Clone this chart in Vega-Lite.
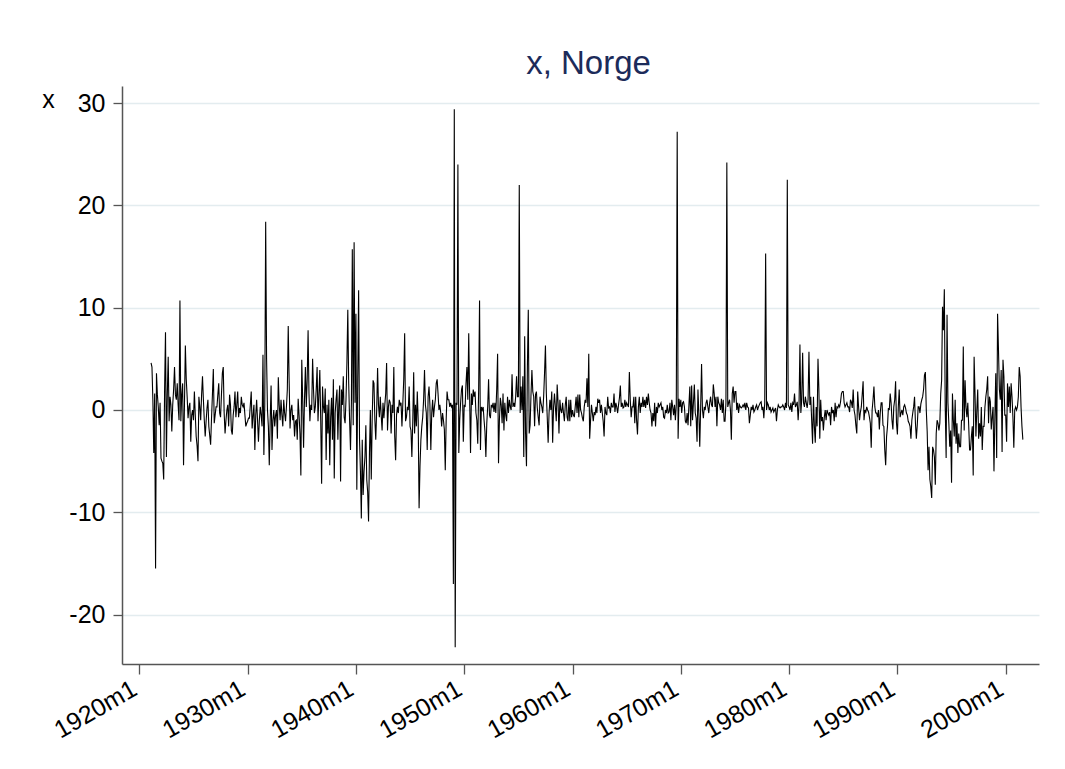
{
"$schema":"https://vega.github.io/schema/vega-lite/v6.json",
"autosize":"none",
"padding":{"left":122,"top":86,"right":26,"bottom":105},
"width":917,"height":578,
"background":"#ffffff",
"config":{"view":{"stroke":null},"font":"Liberation Sans"},
"title":{"text":"x, Norge","fontSize":33,"font":"Liberation Sans","fontWeight":"normal","color":"#1c2b5a","anchor":"middle","dx":8,"baseline":"alphabetic","offset":-21},
"data":{"values":[
{"t":-467,"x":4.6},{"t":-466,"x":4.2},{"t":-465,"x":1},{"t":-464,"x":-4.2},{"t":-463,"x":1.6},{"t":-462,"x":-15.5},{"t":-461,"x":3.6},{"t":-460,"x":1.5},{"t":-459,"x":0.3},{"t":-458,"x":-1.5},{"t":-457,"x":0.7},
{"t":-456,"x":-4.7},{"t":-455,"x":-5},{"t":-454,"x":-5.2},{"t":-453,"x":-6.8},{"t":-452,"x":2},{"t":-451,"x":7.6},{"t":-450,"x":-4.6},{"t":-449,"x":1.5},{"t":-448,"x":5.2},{"t":-447,"x":-1.1},{"t":-446,"x":1.3},{"t":-445,"x":0.5},
{"t":-444,"x":-2.1},{"t":-443,"x":0.5},{"t":-442,"x":2},{"t":-441,"x":4.2},{"t":-440,"x":1.5},{"t":-439,"x":1},{"t":-438,"x":2.6},{"t":-437,"x":0.5},{"t":-436,"x":-1},{"t":-435,"x":10.7},{"t":-434,"x":-1.1},{"t":-433,"x":1.5},
{"t":-432,"x":2.6},{"t":-431,"x":-5.4},{"t":-430,"x":0.5},{"t":-429,"x":6.3},{"t":-428,"x":3},{"t":-427,"x":1.3},{"t":-426,"x":-0.8},{"t":-425,"x":0.3},{"t":-424,"x":0.7},{"t":-423,"x":-3.1},{"t":-422,"x":-0.5},{"t":-421,"x":0},
{"t":-420,"x":-1},{"t":-419,"x":1.8},{"t":-418,"x":-0.5},{"t":-417,"x":-2.6},{"t":-416,"x":-3.5},{"t":-415,"x":-5},{"t":-414,"x":1.3},{"t":-413,"x":0.3},{"t":-412,"x":-1},{"t":-411,"x":1.5},{"t":-410,"x":3.3},{"t":-409,"x":1},
{"t":-408,"x":-1},{"t":-407,"x":-2.6},{"t":-406,"x":-1.1},{"t":-405,"x":0.2},{"t":-404,"x":1},{"t":-403,"x":-1.6},{"t":-402,"x":-2.5},{"t":-401,"x":-3.4},{"t":-400,"x":-0.8},{"t":-399,"x":1.5},{"t":-398,"x":4},{"t":-397,"x":-1.3},
{"t":-396,"x":-0.5},{"t":-395,"x":0.3},{"t":-394,"x":0.3},{"t":-393,"x":1.5},{"t":-392,"x":2.6},{"t":-391,"x":-0.3},{"t":-390,"x":-0.7},{"t":-389,"x":1.5},{"t":-388,"x":3.6},{"t":-387,"x":4.2},{"t":-386,"x":-0.3},{"t":-385,"x":-2.3},
{"t":-384,"x":-1},{"t":-383,"x":0},{"t":-382,"x":0.5},{"t":-381,"x":-1.6},{"t":-380,"x":1.5},{"t":-379,"x":0.5},{"t":-378,"x":-2},{"t":-377,"x":-2.4},{"t":-376,"x":-0.5},{"t":-375,"x":0.3},{"t":-374,"x":1.8},{"t":-373,"x":-0.7},
{"t":-372,"x":0.5},{"t":-371,"x":1.8},{"t":-370,"x":-0.7},{"t":-369,"x":0.2},{"t":-368,"x":-0.3},{"t":-367,"x":1.3},{"t":-366,"x":0.5},{"t":-365,"x":0.3},{"t":-364,"x":0.7},{"t":-363,"x":-0.5},{"t":-362,"x":-1.6},{"t":-361,"x":-1.3},
{"t":-360,"x":-1.1},{"t":-359,"x":-0.8},{"t":-358,"x":-0.8},{"t":-357,"x":0.5},{"t":-356,"x":1.8},{"t":-355,"x":-1.8},{"t":-354,"x":-0.5},{"t":-353,"x":0.5},{"t":-352,"x":-3.9},{"t":-351,"x":-0.5},{"t":-350,"x":1},{"t":-349,"x":-1},
{"t":-348,"x":-3.1},{"t":-347,"x":-1},{"t":-346,"x":0.3},{"t":-345,"x":-0.5},{"t":-344,"x":-1.6},{"t":-343,"x":5.4},{"t":-342,"x":-4.4},{"t":-341,"x":0.5},{"t":-340,"x":18.4},{"t":-339,"x":5},{"t":-338,"x":0},{"t":-337,"x":-1.6},
{"t":-336,"x":-5.4},{"t":-335,"x":-1},{"t":-334,"x":2.4},{"t":-333,"x":-3.9},{"t":-332,"x":-1},{"t":-331,"x":0},{"t":-330,"x":-1.6},{"t":-329,"x":-0.5},{"t":-328,"x":0},{"t":-327,"x":-2.8},{"t":-326,"x":3.2},{"t":-325,"x":0.5},
{"t":-324,"x":-1},{"t":-323,"x":1},{"t":-322,"x":-0.5},{"t":-321,"x":-1.6},{"t":-320,"x":1},{"t":-319,"x":-0.3},{"t":-318,"x":-1.1},{"t":-317,"x":0.3},{"t":-316,"x":2},{"t":-315,"x":8.2},{"t":-314,"x":2.9},{"t":-313,"x":-1.8},
{"t":-312,"x":0},{"t":-311,"x":0.5},{"t":-310,"x":-1},{"t":-309,"x":-0.5},{"t":-308,"x":-2.6},{"t":-307,"x":-1.1},{"t":-306,"x":-1},{"t":-305,"x":-2.9},{"t":-304,"x":1.1},{"t":-303,"x":-0.5},{"t":-302,"x":-2.3},{"t":-301,"x":-6.4},
{"t":-300,"x":4.9},{"t":-299,"x":1},{"t":-298,"x":-3.7},{"t":-297,"x":1},{"t":-296,"x":4.2},{"t":-295,"x":0.3},{"t":-294,"x":3},{"t":-293,"x":7.8},{"t":-292,"x":1.6},{"t":-291,"x":-1.1},{"t":-290,"x":0.5},{"t":-289,"x":0},
{"t":-288,"x":5},{"t":-287,"x":2},{"t":-286,"x":-0.3},{"t":-285,"x":0.3},{"t":-284,"x":2},{"t":-283,"x":4.2},{"t":-282,"x":-1.1},{"t":-281,"x":1.5},{"t":-280,"x":3.9},{"t":-279,"x":-1},{"t":-278,"x":-7.2},{"t":-277,"x":2.3},
{"t":-276,"x":0.3},{"t":-275,"x":-0.3},{"t":-274,"x":2.1},{"t":-273,"x":-4.9},{"t":-272,"x":0.5},{"t":-271,"x":-2.3},{"t":-270,"x":1},{"t":-269,"x":-5.4},{"t":-268,"x":-0.7},{"t":-267,"x":1.2},{"t":-266,"x":-2.9},{"t":-265,"x":3},
{"t":-264,"x":-6.7},{"t":-263,"x":-0.3},{"t":-262,"x":1},{"t":-261,"x":2},{"t":-260,"x":-2.9},{"t":-259,"x":0.5},{"t":-258,"x":2.4},{"t":-257,"x":-7},{"t":-256,"x":2},{"t":-255,"x":0.5},{"t":-254,"x":3.3},{"t":-253,"x":-0.7},
{"t":-252,"x":-1.3},{"t":-251,"x":1},{"t":-250,"x":4.6},{"t":-249,"x":9.8},{"t":-248,"x":2.6},{"t":-247,"x":-1},{"t":-246,"x":-3.9},{"t":-245,"x":0.7},{"t":-244,"x":15.7},{"t":-243,"x":-1.5},{"t":-242,"x":16.4},{"t":-241,"x":0.7},
{"t":-240,"x":9.4},{"t":-239,"x":-7.8},{"t":-238,"x":3},{"t":-237,"x":11.7},{"t":-236,"x":-2.9},{"t":-235,"x":-6},{"t":-234,"x":-10.6},{"t":-233,"x":-2.9},{"t":-232,"x":-8.3},{"t":-231,"x":-6},{"t":-230,"x":-4.6},{"t":-229,"x":-1.5},
{"t":-228,"x":-6.8},{"t":-227,"x":-8},{"t":-226,"x":-10.9},{"t":-225,"x":-4.2},{"t":-224,"x":0},{"t":-223,"x":-6.8},{"t":-222,"x":-1},{"t":-221,"x":2.9},{"t":-220,"x":2.6},{"t":-219,"x":-1},{"t":-218,"x":-2.9},{"t":-217,"x":0},
{"t":-216,"x":4.1},{"t":-215,"x":0.5},{"t":-214,"x":-0.7},{"t":-213,"x":1.3},{"t":-212,"x":-0.5},{"t":-211,"x":-2},{"t":-210,"x":0.7},{"t":-209,"x":-0.8},{"t":-208,"x":0.5},{"t":-207,"x":1.6},{"t":-206,"x":4.6},{"t":-205,"x":-2},
{"t":-204,"x":0.3},{"t":-203,"x":1},{"t":-202,"x":0.7},{"t":-201,"x":-2.3},{"t":-200,"x":0.5},{"t":-199,"x":-0.3},{"t":-198,"x":4.2},{"t":-197,"x":-2.6},{"t":-196,"x":-4.9},{"t":-195,"x":-0.5},{"t":-194,"x":0.3},{"t":-193,"x":-0.3},
{"t":-192,"x":1},{"t":-191,"x":0.5},{"t":-190,"x":0.7},{"t":-189,"x":-1.6},{"t":-188,"x":0.7},{"t":-187,"x":3},{"t":-186,"x":7.5},{"t":-185,"x":-1.1},{"t":-184,"x":-0.7},{"t":-183,"x":0.3},{"t":-182,"x":0},{"t":-181,"x":2.3},
{"t":-180,"x":-1.6},{"t":-179,"x":-2},{"t":-178,"x":-4.6},{"t":-177,"x":-1.1},{"t":-176,"x":3.7},{"t":-175,"x":-2.3},{"t":-174,"x":0.5},{"t":-173,"x":-1.6},{"t":-172,"x":1.8},{"t":-171,"x":-1},{"t":-170,"x":-9.6},{"t":-169,"x":-5.5},
{"t":-168,"x":-2.9},{"t":-167,"x":-1.6},{"t":-166,"x":-0.7},{"t":-165,"x":1},{"t":-164,"x":3.9},{"t":-163,"x":0.5},{"t":-162,"x":-0.3},{"t":-161,"x":-3.9},{"t":-160,"x":1.3},{"t":-159,"x":2.3},{"t":-158,"x":0.5},{"t":-157,"x":-3.9},
{"t":-156,"x":-0.3},{"t":-155,"x":1},{"t":-154,"x":-0.7},{"t":-153,"x":0.3},{"t":-152,"x":1},{"t":-151,"x":2.6},{"t":-150,"x":3},{"t":-149,"x":1.6},{"t":-148,"x":0},{"t":-147,"x":0.5},{"t":-146,"x":-0.3},{"t":-145,"x":-1.6},
{"t":-144,"x":-0.3},{"t":-143,"x":-1},{"t":-142,"x":-1.9},{"t":-141,"x":-5.9},{"t":-140,"x":-1},{"t":-139,"x":1.8},{"t":-138,"x":1},{"t":-137,"x":1},{"t":-136,"x":0.3},{"t":-135,"x":0.7},{"t":-134,"x":0.3},{"t":-133,"x":0.5},
{"t":-132,"x":-17},{"t":-131,"x":29.4},{"t":-130,"x":-23.2},{"t":-129,"x":0.7},{"t":-128,"x":0.5},{"t":-127,"x":24},{"t":-126,"x":-4.2},{"t":-125,"x":-1},{"t":-124,"x":0.7},{"t":-123,"x":2},{"t":-122,"x":2.4},{"t":-121,"x":-3.1},
{"t":-120,"x":0.5},{"t":-119,"x":0.3},{"t":-118,"x":2.6},{"t":-117,"x":4.2},{"t":-116,"x":1},{"t":-115,"x":7.5},{"t":-114,"x":1.3},{"t":-113,"x":-4.2},{"t":-112,"x":1.6},{"t":-111,"x":0.5},{"t":-110,"x":2},{"t":-109,"x":1.3},
{"t":-108,"x":1.8},{"t":-107,"x":-0.3},{"t":-106,"x":-1},{"t":-105,"x":-3.3},{"t":-104,"x":2.1},{"t":-103,"x":10.7},{"t":-102,"x":-3.9},{"t":-101,"x":0.3},{"t":-100,"x":0},{"t":-99,"x":0.3},{"t":-98,"x":-1},{"t":-97,"x":-2.1},
{"t":-96,"x":-4.6},{"t":-95,"x":-1.3},{"t":-94,"x":0.3},{"t":-93,"x":3},{"t":-92,"x":-0.5},{"t":-91,"x":-0.8},{"t":-90,"x":0.5},{"t":-89,"x":0.3},{"t":-88,"x":0.7},{"t":-87,"x":-0.2},{"t":-86,"x":0.7},{"t":-85,"x":-0.3},
{"t":-84,"x":2},{"t":-83,"x":5.5},{"t":-82,"x":-5.2},{"t":-81,"x":-1},{"t":-80,"x":1.2},{"t":-79,"x":0.5},{"t":-78,"x":-1.3},{"t":-77,"x":1.6},{"t":-76,"x":-2},{"t":-75,"x":0.7},{"t":-74,"x":-0.5},{"t":-73,"x":-1.1},
{"t":-72,"x":1.3},{"t":-71,"x":-0.3},{"t":-70,"x":1},{"t":-69,"x":0.3},{"t":-68,"x":0},{"t":-67,"x":3.5},{"t":-66,"x":0.3},{"t":-65,"x":0.7},{"t":-64,"x":0.3},{"t":-63,"x":1.3},{"t":-62,"x":3.3},{"t":-61,"x":1.3},
{"t":-60,"x":1.3},{"t":-59,"x":22},{"t":-58,"x":-0.3},{"t":-57,"x":2.3},{"t":-56,"x":0},{"t":-55,"x":3.3},{"t":-54,"x":-4.6},{"t":-53,"x":7.2},{"t":-52,"x":-2.3},{"t":-51,"x":-5.5},{"t":-50,"x":4.2},{"t":-49,"x":9.8},
{"t":-48,"x":-2.3},{"t":-47,"x":-1.5},{"t":-46,"x":1.5},{"t":-45,"x":3.9},{"t":-44,"x":1.8},{"t":-43,"x":1.3},{"t":-42,"x":-1.6},{"t":-41,"x":1.5},{"t":-40,"x":1.8},{"t":-39,"x":0.2},{"t":-38,"x":-0.7},{"t":-37,"x":-1.5},
{"t":-36,"x":1.3},{"t":-35,"x":0.7},{"t":-34,"x":0.3},{"t":-33,"x":-0.3},{"t":-32,"x":1.3},{"t":-31,"x":3.6},{"t":-30,"x":6.3},{"t":-29,"x":1.6},{"t":-28,"x":-0.7},{"t":-27,"x":-3.2},{"t":-26,"x":-0.3},{"t":-25,"x":1},
{"t":-24,"x":0},{"t":-23,"x":1.8},{"t":-22,"x":-3.2},{"t":-21,"x":0.3},{"t":-20,"x":1.6},{"t":-19,"x":0.3},{"t":-18,"x":-1.1},{"t":-17,"x":2.5},{"t":-16,"x":0.7},{"t":-15,"x":-2.3},{"t":-14,"x":1},{"t":-13,"x":0},
{"t":-12,"x":-0.3},{"t":-11,"x":0.7},{"t":-10,"x":-0.3},{"t":-9,"x":-1.1},{"t":-8,"x":0.5},{"t":-7,"x":1.3},{"t":-6,"x":-0.7},{"t":-5,"x":-1.1},{"t":-4,"x":1},{"t":-3,"x":-1.1},{"t":-2,"x":1},{"t":-1,"x":-0.7},
{"t":0,"x":0},{"t":1,"x":-0.5},{"t":2,"x":-0.7},{"t":3,"x":0.3},{"t":4,"x":1.3},{"t":5,"x":-0.3},{"t":6,"x":1.5},{"t":7,"x":-0.7},{"t":8,"x":1.5},{"t":9,"x":0},{"t":10,"x":-0.3},{"t":11,"x":-0.8},
{"t":12,"x":-1.1},{"t":13,"x":0.3},{"t":14,"x":1},{"t":15,"x":0.7},{"t":16,"x":3.1},{"t":17,"x":0.3},{"t":18,"x":5.5},{"t":19,"x":-2.8},{"t":20,"x":-1},{"t":21,"x":0.5},{"t":22,"x":-0.3},{"t":23,"x":-1.1},
{"t":24,"x":-0.2},{"t":25,"x":-0.5},{"t":26,"x":0.3},{"t":27,"x":-0.3},{"t":28,"x":1.1},{"t":29,"x":0.7},{"t":30,"x":1},{"t":31,"x":-0.3},{"t":32,"x":0.5},{"t":33,"x":-0.3},{"t":34,"x":-1.1},{"t":35,"x":-2.6},
{"t":36,"x":0.3},{"t":37,"x":-0.3},{"t":38,"x":-0.5},{"t":39,"x":1.3},{"t":40,"x":0.2},{"t":41,"x":0.3},{"t":42,"x":-0.3},{"t":43,"x":0.7},{"t":44,"x":0.3},{"t":45,"x":0.3},{"t":46,"x":1.6},{"t":47,"x":-0.2},
{"t":48,"x":0.7},{"t":49,"x":0.3},{"t":50,"x":-0.3},{"t":51,"x":0.5},{"t":52,"x":1.2},{"t":53,"x":2.4},{"t":54,"x":0.3},{"t":55,"x":0.7},{"t":56,"x":0.2},{"t":57,"x":0.3},{"t":58,"x":1},{"t":59,"x":0.3},
{"t":60,"x":0.7},{"t":61,"x":0.5},{"t":62,"x":0.3},{"t":63,"x":3.7},{"t":64,"x":1},{"t":65,"x":-0.7},{"t":66,"x":0.3},{"t":67,"x":0.3},{"t":68,"x":1.3},{"t":69,"x":-1.3},{"t":70,"x":1.3},{"t":71,"x":-1},
{"t":72,"x":-2.4},{"t":73,"x":0.3},{"t":74,"x":1.3},{"t":75,"x":-0.3},{"t":76,"x":0.7},{"t":77,"x":0.3},{"t":78,"x":1.3},{"t":79,"x":0.3},{"t":80,"x":1},{"t":81,"x":0.2},{"t":82,"x":1.3},{"t":83,"x":0.5},
{"t":84,"x":1.6},{"t":85,"x":0.7},{"t":86,"x":0},{"t":87,"x":-0.3},{"t":88,"x":-1.6},{"t":89,"x":-0.3},{"t":90,"x":-1.1},{"t":91,"x":0.7},{"t":92,"x":-1.6},{"t":93,"x":0.3},{"t":94,"x":-0.3},{"t":95,"x":0.7},
{"t":96,"x":0.3},{"t":97,"x":0.5},{"t":98,"x":0.7},{"t":99,"x":0},{"t":100,"x":0.3},{"t":101,"x":-0.7},{"t":102,"x":-0.8},{"t":103,"x":0},{"t":104,"x":-0.3},{"t":105,"x":0.5},{"t":106,"x":-0.3},{"t":107,"x":-0.2},
{"t":108,"x":0.7},{"t":109,"x":-1},{"t":110,"x":1},{"t":111,"x":0.3},{"t":112,"x":-0.5},{"t":113,"x":0.5},{"t":114,"x":-1},{"t":115,"x":0.5},{"t":116,"x":27.2},{"t":117,"x":-2.8},{"t":118,"x":1.1},{"t":119,"x":0.3},
{"t":120,"x":1},{"t":121,"x":-0.3},{"t":122,"x":0.7},{"t":123,"x":0.8},{"t":124,"x":0.3},{"t":125,"x":-1.1},{"t":126,"x":-1.3},{"t":127,"x":-0.3},{"t":128,"x":-1.5},{"t":129,"x":0.5},{"t":130,"x":2.3},{"t":131,"x":-1.6},
{"t":132,"x":2.4},{"t":133,"x":-1},{"t":134,"x":0.7},{"t":135,"x":2.5},{"t":136,"x":-0.3},{"t":137,"x":-0.8},{"t":138,"x":-3.1},{"t":139,"x":2},{"t":140,"x":-0.3},{"t":141,"x":-3.6},{"t":142,"x":0.3},{"t":143,"x":4.5},
{"t":144,"x":0},{"t":145,"x":-0.8},{"t":146,"x":0.3},{"t":147,"x":0},{"t":148,"x":0.7},{"t":149,"x":1},{"t":150,"x":0.3},{"t":151,"x":-0.3},{"t":152,"x":0.7},{"t":153,"x":1.3},{"t":154,"x":0.5},{"t":155,"x":0.3},
{"t":156,"x":2.5},{"t":157,"x":1.6},{"t":158,"x":0.3},{"t":159,"x":1.3},{"t":160,"x":-1.6},{"t":161,"x":1.3},{"t":162,"x":0.7},{"t":163,"x":0.5},{"t":164,"x":0},{"t":165,"x":1.1},{"t":166,"x":-0.3},{"t":167,"x":1},
{"t":168,"x":-1.1},{"t":169,"x":-1.1},{"t":170,"x":0.7},{"t":171,"x":24.2},{"t":172,"x":0.3},{"t":173,"x":0.7},{"t":174,"x":1},{"t":175,"x":0},{"t":176,"x":-2.9},{"t":177,"x":1.6},{"t":178,"x":2.3},{"t":179,"x":0.7},
{"t":180,"x":1.8},{"t":181,"x":1.8},{"t":182,"x":0},{"t":183,"x":0.7},{"t":184,"x":-0.3},{"t":185,"x":0.5},{"t":186,"x":0.3},{"t":187,"x":0.2},{"t":188,"x":0.3},{"t":189,"x":0.5},{"t":190,"x":0.3},{"t":191,"x":0.7},
{"t":192,"x":0},{"t":193,"x":0.7},{"t":194,"x":0.3},{"t":195,"x":0.2},{"t":196,"x":-1.3},{"t":197,"x":-0.5},{"t":198,"x":0.3},{"t":199,"x":0},{"t":200,"x":0.5},{"t":201,"x":-0.2},{"t":202,"x":0},{"t":203,"x":0.3},
{"t":204,"x":0.5},{"t":205,"x":0},{"t":206,"x":0.3},{"t":207,"x":0.5},{"t":208,"x":0.7},{"t":209,"x":0.8},{"t":210,"x":0},{"t":211,"x":0.3},{"t":212,"x":-0.8},{"t":213,"x":0.7},{"t":214,"x":15.3},{"t":215,"x":0},
{"t":216,"x":0.7},{"t":217,"x":0.5},{"t":218,"x":0},{"t":219,"x":0.3},{"t":220,"x":-0.2},{"t":221,"x":0},{"t":222,"x":0.2},{"t":223,"x":-0.2},{"t":224,"x":0},{"t":225,"x":0.2},{"t":226,"x":-1.1},{"t":227,"x":0},
{"t":228,"x":0.5},{"t":229,"x":0.3},{"t":230,"x":0.2},{"t":231,"x":0.3},{"t":232,"x":0.3},{"t":233,"x":0.5},{"t":234,"x":0.3},{"t":235,"x":0},{"t":236,"x":0.7},{"t":237,"x":0.2},{"t":238,"x":22.5},{"t":239,"x":0.5},
{"t":240,"x":0.3},{"t":241,"x":0},{"t":242,"x":0.7},{"t":243,"x":-0.2},{"t":244,"x":0.7},{"t":245,"x":0.5},{"t":246,"x":1.6},{"t":247,"x":0.3},{"t":248,"x":0.5},{"t":249,"x":0.8},{"t":250,"x":-1},{"t":251,"x":0.5},
{"t":252,"x":6.4},{"t":253,"x":-0.3},{"t":254,"x":1},{"t":255,"x":5.6},{"t":256,"x":0.7},{"t":257,"x":0.3},{"t":258,"x":1.3},{"t":259,"x":0.7},{"t":260,"x":0.2},{"t":261,"x":1},{"t":262,"x":5.7},{"t":263,"x":0.5},
{"t":264,"x":1.3},{"t":265,"x":-1},{"t":266,"x":-3.3},{"t":267,"x":1.3},{"t":268,"x":-1.6},{"t":269,"x":-3.2},{"t":270,"x":0.3},{"t":271,"x":-1.6},{"t":272,"x":5},{"t":273,"x":2},{"t":274,"x":-2.8},{"t":275,"x":1},
{"t":276,"x":-1.1},{"t":277,"x":-0.7},{"t":278,"x":-2},{"t":279,"x":-0.7},{"t":280,"x":0},{"t":281,"x":-1},{"t":282,"x":0},{"t":283,"x":-0.3},{"t":284,"x":-0.5},{"t":285,"x":-0.2},{"t":286,"x":-1.5},{"t":287,"x":0.3},
{"t":288,"x":-0.3},{"t":289,"x":0},{"t":290,"x":-1.1},{"t":291,"x":0.7},{"t":292,"x":-0.7},{"t":293,"x":0.3},{"t":294,"x":0.2},{"t":295,"x":0.5},{"t":296,"x":0.3},{"t":297,"x":0.8},{"t":298,"x":1.6},{"t":299,"x":1.8},
{"t":300,"x":1.8},{"t":301,"x":0.7},{"t":302,"x":0.3},{"t":303,"x":0.5},{"t":304,"x":0.7},{"t":305,"x":0.3},{"t":306,"x":0.3},{"t":307,"x":-0.2},{"t":308,"x":1},{"t":309,"x":0.8},{"t":310,"x":0.2},{"t":311,"x":2},
{"t":312,"x":0},{"t":313,"x":-0.5},{"t":314,"x":-1.5},{"t":315,"x":-2.3},{"t":316,"x":1.8},{"t":317,"x":0.3},{"t":318,"x":-1},{"t":319,"x":-0.2},{"t":320,"x":0.3},{"t":321,"x":1.5},{"t":322,"x":2.8},{"t":323,"x":-1},
{"t":324,"x":0},{"t":325,"x":-0.2},{"t":326,"x":0.3},{"t":327,"x":0},{"t":328,"x":-0.2},{"t":329,"x":-0.7},{"t":330,"x":-1.3},{"t":331,"x":-3.7},{"t":332,"x":0},{"t":333,"x":1},{"t":334,"x":2.3},{"t":335,"x":0.3},
{"t":336,"x":-0.3},{"t":337,"x":-0.3},{"t":338,"x":-0.7},{"t":339,"x":0},{"t":340,"x":-1.9},{"t":341,"x":-0.3},{"t":342,"x":0.7},{"t":343,"x":0.7},{"t":344,"x":-1.5},{"t":345,"x":-1.6},{"t":346,"x":-3.9},{"t":347,"x":-5.4},
{"t":348,"x":-2.6},{"t":349,"x":-1.6},{"t":350,"x":0.2},{"t":351,"x":0},{"t":352,"x":1.6},{"t":353,"x":0.7},{"t":354,"x":-1},{"t":355,"x":-1.9},{"t":356,"x":0.3},{"t":357,"x":1},{"t":358,"x":2.8},{"t":359,"x":-1.3},
{"t":360,"x":-2.4},{"t":361,"x":0.3},{"t":362,"x":2},{"t":363,"x":-0.7},{"t":364,"x":-0.3},{"t":365,"x":0},{"t":366,"x":-0.5},{"t":367,"x":0.3},{"t":368,"x":0.5},{"t":369,"x":0.2},{"t":370,"x":-0.3},{"t":371,"x":-0.5},
{"t":372,"x":-1.1},{"t":373,"x":-1.3},{"t":374,"x":-1.6},{"t":375,"x":-2.8},{"t":376,"x":-1},{"t":377,"x":-0.3},{"t":378,"x":0.3},{"t":379,"x":1.3},{"t":380,"x":-1.3},{"t":381,"x":-2.8},{"t":382,"x":-1.5},{"t":383,"x":0.3},
{"t":384,"x":0.3},{"t":385,"x":-0.3},{"t":386,"x":0.6},{"t":387,"x":1},{"t":388,"x":1.3},{"t":389,"x":2},{"t":390,"x":3.4},{"t":391,"x":3.7},{"t":392,"x":0},{"t":393,"x":-2.1},{"t":394,"x":-5.9},{"t":395,"x":-3.6},
{"t":396,"x":-6.8},{"t":397,"x":-7.5},{"t":398,"x":-8.6},{"t":399,"x":-3.6},{"t":400,"x":-3.9},{"t":401,"x":-4.6},{"t":402,"x":-7.3},{"t":403,"x":-2.3},{"t":404,"x":-1},{"t":405,"x":-1.3},{"t":406,"x":-2},{"t":407,"x":-1.3},
{"t":408,"x":1.6},{"t":409,"x":2.9},{"t":410,"x":10.1},{"t":411,"x":7.8},{"t":412,"x":11.8},{"t":413,"x":0.3},{"t":414,"x":-4.7},{"t":415,"x":9.3},{"t":416,"x":0.7},{"t":417,"x":-1.3},{"t":418,"x":-3.6},{"t":419,"x":-2},
{"t":420,"x":-7.1},{"t":421,"x":1.6},{"t":422,"x":-1},{"t":423,"x":-2.6},{"t":424,"x":1},{"t":425,"x":-3.3},{"t":426,"x":-1.3},{"t":427,"x":-4.2},{"t":428,"x":-2.3},{"t":429,"x":-3.6},{"t":430,"x":-3.6},{"t":431,"x":-1},
{"t":432,"x":-1},{"t":433,"x":6.2},{"t":434,"x":-2},{"t":435,"x":2.9},{"t":436,"x":0.3},{"t":437,"x":-0.7},{"t":438,"x":0.7},{"t":439,"x":-1.5},{"t":440,"x":-3.9},{"t":441,"x":-3.9},{"t":442,"x":-2.6},{"t":443,"x":-1.6},
{"t":444,"x":-6.4},{"t":445,"x":5.2},{"t":446,"x":1.6},{"t":447,"x":-2.6},{"t":448,"x":0},{"t":449,"x":2},{"t":450,"x":-2.8},{"t":451,"x":-1.3},{"t":452,"x":-2.6},{"t":453,"x":0.3},{"t":454,"x":-3.9},{"t":455,"x":-1.6},
{"t":456,"x":-1.6},{"t":457,"x":0.3},{"t":458,"x":1.3},{"t":459,"x":2},{"t":460,"x":3.3},{"t":461,"x":-1.3},{"t":462,"x":1.3},{"t":463,"x":0.8},{"t":464,"x":-1.9},{"t":465,"x":-0.7},{"t":466,"x":0.3},{"t":467,"x":-6},
{"t":468,"x":-0.7},{"t":469,"x":3.6},{"t":470,"x":-4.7},{"t":471,"x":9.4},{"t":472,"x":5.9},{"t":473,"x":2},{"t":474,"x":1},{"t":475,"x":3.9},{"t":476,"x":-4.1},{"t":477,"x":4.9},{"t":478,"x":3.3},{"t":479,"x":-0.5},
{"t":480,"x":-0.5},{"t":481,"x":-3.1},{"t":482,"x":2.6},{"t":483,"x":0.3},{"t":484,"x":2.3},{"t":485,"x":-0.3},{"t":486,"x":2.6},{"t":487,"x":1.3},{"t":488,"x":-0.7},{"t":489,"x":-3.7},{"t":490,"x":0},{"t":491,"x":0.3},
{"t":492,"x":0},{"t":493,"x":0.3},{"t":494,"x":1.3},{"t":495,"x":4.2},{"t":496,"x":3.3},{"t":497,"x":0.3},{"t":498,"x":-1.6},{"t":499,"x":-2.9}
]},
"mark":{"type":"line","color":"#000000","strokeWidth":1.1,"interpolate":"linear"},
"encoding":{
"x":{"field":"t","type":"quantitative","scale":{"domain":[-499.2,516.9],"nice":false,"zero":false},
"axis":{"title":null,"values":[-480,-360,-240,-120,0,120,240,360,480],"labelExpr":"(1960 + datum.value / 12) + 'm1'","labelAngle":-30,"labelAlign":"right","labelBaseline":"top","labelPadding":2,"labelOffset":-11,"tickSize":10,"grid":false,"labelFontSize":25,"labelFont":"Liberation Sans","labelColor":"#000000","domainColor":"#555555","tickColor":"#555555","domainWidth":1.5,"tickWidth":1.3,"labelOverlap":false,"labelFlush":false,"labelBound":false}},
"y":{"field":"x","type":"quantitative","scale":{"domain":[-24.83,31.67],"nice":false,"zero":false},
"axis":{"title":"x","titleAngle":0,"titleX":-74,"titleY":21,"titleAlign":"center","titleBaseline":"alphabetic","titleFontSize":25,"titleFontWeight":"normal","titleFont":"Liberation Sans","titleColor":"#000000","values":[-20,-10,0,10,20,30],"labelExpr":"datum.value + ''","tickSize":9,"labelPadding":8,"grid":true,"gridColor":"#e3ecef","gridWidth":1.6,"labelFontSize":25,"labelFont":"Liberation Sans","labelColor":"#000000","domainColor":"#555555","tickColor":"#555555","domainWidth":1.5,"tickWidth":1.3,"labelOverlap":false,"labelFlush":false,"labelBound":false}}
}
}
